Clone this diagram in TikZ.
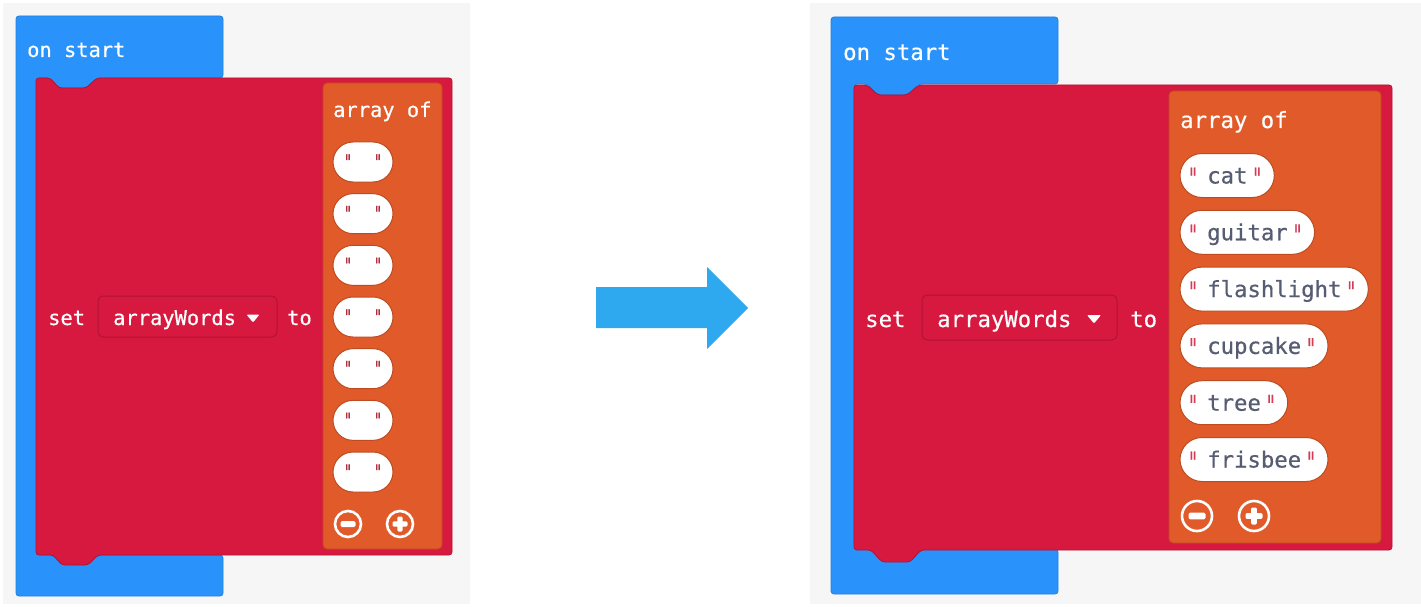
\documentclass[tikz,border=0pt]{standalone}
\usepackage{fontspec}
\newfontfamily\blockfont{DejaVu Sans Mono}[Ligatures=TeXOff, FakeBold=0.5]
\definecolor{workspace}{HTML}{F6F6F6}
\definecolor{evBlue}{HTML}{2A93FB}
\definecolor{evEdge}{HTML}{1F80DD}
\definecolor{varRed}{HTML}{D7193F}
\definecolor{varEdge}{HTML}{B01333}
\definecolor{arrOrange}{HTML}{E05A2A}
\definecolor{arrEdge}{HTML}{BE4A1F}
\definecolor{strText}{HTML}{565D72}
\definecolor{quoteDark}{HTML}{B0303F}
\definecolor{quoteRed}{HTML}{D23C55}
\definecolor{bigArrow}{HTML}{2EA8EE}
\tikzset{
  evblock/.style={fill=evBlue, draw=evEdge, line width=0.8pt, rounded corners=3pt},
  setblock/.style={fill=varRed, draw=varEdge, line width=0.8pt, rounded corners=3pt},
  arrblock/.style={fill=arrOrange, draw=arrEdge, line width=0.8pt, rounded corners=4pt},
  dropbox/.style={draw=varEdge, fill=varRed, line width=1pt, rounded corners=5pt, inner sep=0pt},
  strpill/.style={draw=arrEdge, fill=white, line width=1pt, rounded corners=20pt, inner sep=0pt},
  labL/.style={text=white, inner sep=0pt, anchor=base west, font=\blockfont\fontsize{20.4}{24}\selectfont},
  labR/.style={text=white, inner sep=0pt, anchor=base west, font=\blockfont\fontsize{22.3}{26}\selectfont},
  wordR/.style={text=strText, inner sep=0pt, anchor=base west, font=\blockfont\fontsize{22.3}{26}\selectfont},
  quoteL/.style={text=quoteDark, inner sep=0pt, anchor=base, font=\blockfont\fontsize{14}{16}\selectfont},
  quoteR/.style={text=quoteRed, inner sep=0pt, anchor=base, font=\blockfont\fontsize{17}{20}\selectfont},
  roundbtn/.style={circle, draw=white, line width=2.6pt, inner sep=0pt}
}
\begin{document}
\begin{tikzpicture}[x=1pt,y=-1pt]
\useasboundingbox (0,0) rectangle (1421,607);
\fill[white] (0,0) rectangle (1421,607);

% ---------------- empty array ----------------
\fill[workspace] (3,3) rectangle (470,604);
\path[evblock] (16,16) -- (223,16) -- (223,78) -- (97,78) -- (86,88) -- (59,88) -- (50,78)
  -- (37,78) -- (37,555) -- (223,555) -- (223,596) -- (16,596) -- cycle;
\node[labL] (lstart) at (27,57) {on start};
\path[setblock] (36,555) -- (36,78) -- (50,78) -- (59,88) -- (86,88) -- (97,78)
  -- (452,78) -- (452,555) -- (98,555) -- (88,565) -- (62,565) -- (53,555) -- cycle;
\path[arrblock] (323,83) rectangle (442,549);
\node[labL] (larr) at (333,117) {array of};
\node[labL] (lset) at (48,325) {set};
\node[dropbox, minimum width=179pt, minimum height=41pt] (ldrop) at (187.5,316.5) {};
\node[labL] (lvar) at (113,325) {arrayWords};
\fill[white, rounded corners=1pt] (246.5,314.5) -- (259.5,314.5) -- (253,322.5) -- cycle;
\node[labL] (lto) at (287,325) {to};
\foreach \i in {1,...,7}{
  \pgfmathsetmacro\yc{162+(\i-1)*51.67}
  \node[strpill, minimum width=60pt, minimum height=40pt] (lp\i) at (363,\yc) {};
  \node[quoteL] (lql\i) at (348,\yc+7.6) {\scalebox{1}[1.5]{"}};
  \node[quoteL] (lqr\i) at (378,\yc+7.6) {\scalebox{1}[1.5]{"}};
}
\node[roundbtn, minimum size=26pt] (lminus) at (348,524) {};
\fill[white, rounded corners=1.5pt] ([shift={(-7.5,-3)}]lminus.center) rectangle ([shift={(7.5,3)}]lminus.center);
\node[roundbtn, minimum size=26pt] (lplus) at (400,524) {};
\fill[white, rounded corners=1.2pt] ([shift={(-7.5,-2.6)}]lplus.center) rectangle ([shift={(7.5,2.6)}]lplus.center);
\fill[white, rounded corners=1.2pt] ([shift={(-2.6,-7.5)}]lplus.center) rectangle ([shift={(2.6,7.5)}]lplus.center);

% ---------------- big arrow ----------------
\fill[bigArrow] (596,287) -- (707,287) -- (707,267) -- (748,308) -- (707,349)
  -- (707,328) -- (596,328) -- cycle;

% ---------------- filled array ----------------
\fill[workspace] (810,3) rectangle (1421,604);
\path[evblock] (831,17) -- (1058,17) -- (1058,84) -- (919,84) -- (907,95) -- (878,95) -- (867,84)
  -- (854,84) -- (854,549) -- (1058,549) -- (1058,594) -- (831,594) -- cycle;
\node[labR] (rstart) at (843,60) {on start};
\path[setblock] (854,550) -- (854,85) -- (867,85) -- (878,95) -- (907,95) -- (919,85)
  -- (1392,85) -- (1392,550) -- (921,550) -- (910,562) -- (882,562) -- (871,550) -- cycle;
\path[arrblock] (1169,91) rectangle (1381,543);
\node[labR] (rarr) at (1180,128) {array of};
\node[labR] (rset) at (865,327) {set};
\node[dropbox, minimum width=195pt, minimum height=45pt] (rdrop) at (1019.5,317.5) {};
\node[labR] (rvar) at (937,327) {arrayWords};
\fill[white, rounded corners=1pt] (1087,315) -- (1101,315) -- (1094,323.5) -- cycle;
\node[labR] (rto) at (1130,327) {to};
\foreach \i/\w/\n in {1/cat/3,2/guitar/6,3/flashlight/10,4/cupcake/7,5/tree/4,6/frisbee/7}{
  \pgfmathsetmacro\yc{175.5+(\i-1)*56.8}
  \pgfmathsetmacro\we{1207+13.43*\n}
  \pgfmathsetmacro\pw{\we+27-1180}
  \pgfmathsetmacro\pc{1180+\pw/2}
  \node[strpill, rounded corners=22pt, minimum width=\pw pt, minimum height=44pt] (rp\i) at (\pc,\yc) {};
  \node[wordR] (rw\i) at (1207,\yc+8) {\w};
  \node[quoteR] (rql\i) at (1193,\yc+13.3) {\scalebox{1}[1.7]{"}};
  \node[quoteR] (rqr\i) at (\we+10,\yc+13.3) {\scalebox{1}[1.7]{"}};
}
\node[roundbtn, minimum size=30pt] (rminus) at (1197,516) {};
\fill[white, rounded corners=1.5pt] ([shift={(-8.5,-3.3)}]rminus.center) rectangle ([shift={(8.5,3.3)}]rminus.center);
\node[roundbtn, minimum size=30pt] (rplus) at (1254,516) {};
\fill[white, rounded corners=1.2pt] ([shift={(-8.5,-2.9)}]rplus.center) rectangle ([shift={(8.5,2.9)}]rplus.center);
\fill[white, rounded corners=1.2pt] ([shift={(-2.9,-8.5)}]rplus.center) rectangle ([shift={(2.9,8.5)}]rplus.center);
\end{tikzpicture}
\end{document}
